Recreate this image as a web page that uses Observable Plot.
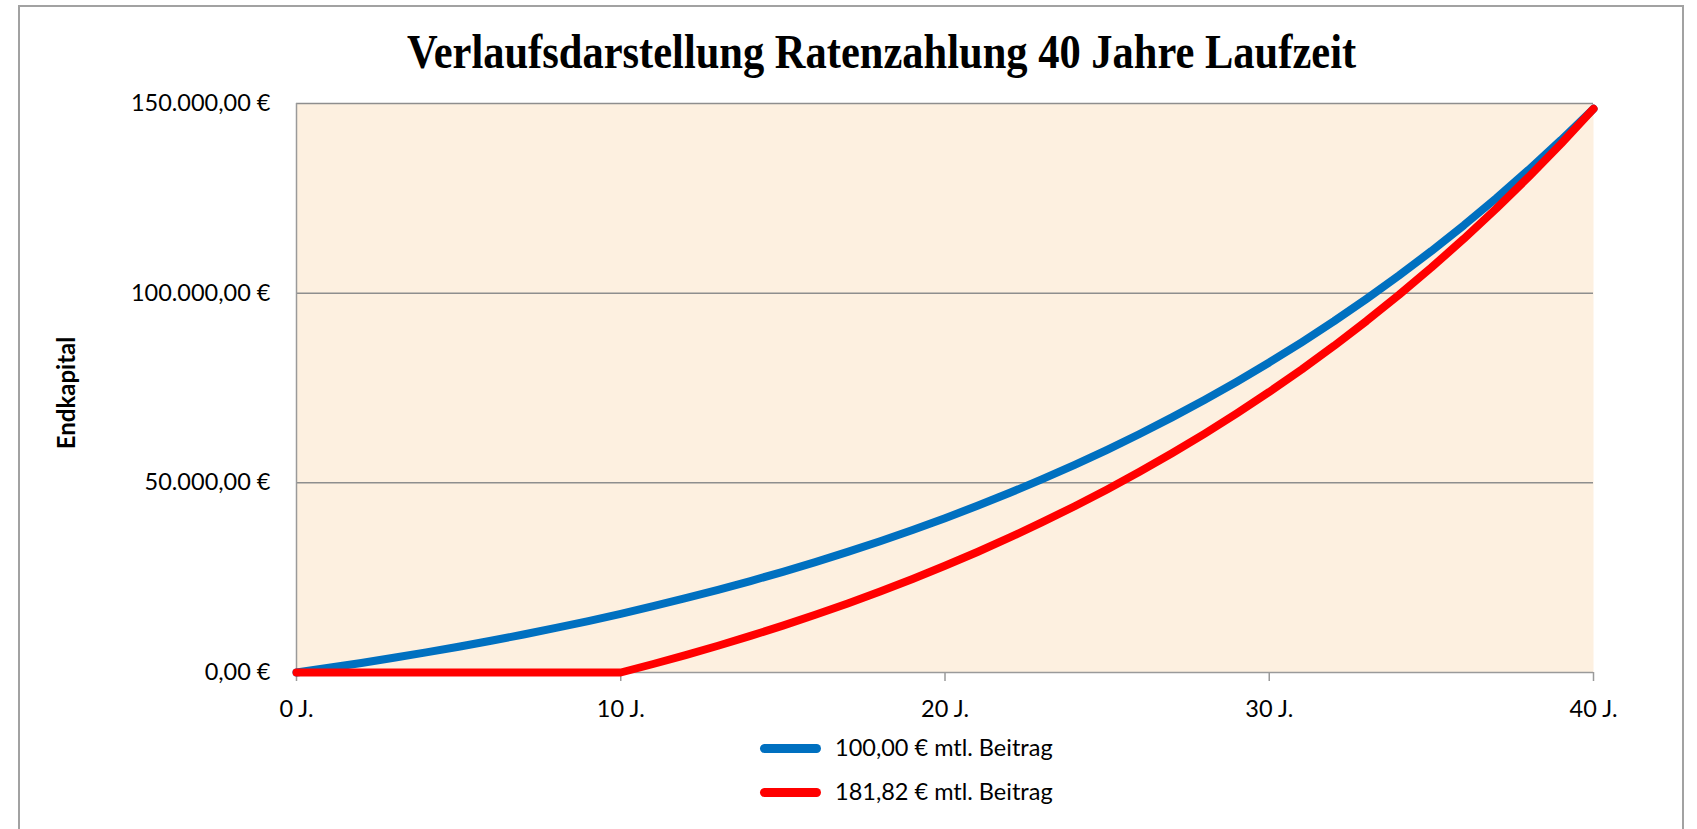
<!DOCTYPE html>
<html>
<head>
<meta charset="utf-8">
<script src="https://cdn.jsdelivr.net/npm/d3@7"></script>
<script src="https://cdn.jsdelivr.net/npm/@observablehq/plot@0.6"></script>
<style>
  html, body { margin: 0; padding: 0; overflow: hidden; background: #fff; }
  #wrap { position: relative; width: 1697px; height: 829px; overflow: hidden; }
  #chart { position: absolute; left: 0; top: 0; }
  #frame { position: absolute; left: 18px; top: 5px; width: 1666px; height: 900px;
           border: 2px solid #a2a2a2; box-sizing: border-box; pointer-events: none; }
  #title { position: absolute; left: 881.5px; top: 30.7px; white-space: nowrap;
           font-family: "Liberation Serif", "Times New Roman", serif; font-weight: bold;
           font-size: 42.5px; line-height: 1; color: #000;
           transform: translateX(-50%) scaleY(1.12); }
  .lg-swatch { position: absolute; left: 760px; width: 61px; height: 9px; border-radius: 4.5px; }
  .lg-text { position: absolute; left: 835px; font-family: Lato, sans-serif; font-size: 23.5px;
             line-height: 30px; color: #000; white-space: nowrap; }
</style>
</head>
<body>
<div id="wrap">
  <div id="chart"></div>
  <div id="frame"></div>
  <div id="title"></div>
  <div id="legend"></div>
</div>
<script>
// ---- data ----
const chartTitle = "Verlaufsdarstellung Ratenzahlung 40 Jahre Laufzeit";
const yAxisLabel = "Endkapital";
const years = [0,1,2,3,4,5,6,7,8,9,10,11,12,13,14,15,16,17,18,19,20,
               21,22,23,24,25,26,27,28,29,30,31,32,33,34,35,36,37,38,39,40];
const blueValues = [0,1230,2520,3880,5300,6800,8370,10020,11750,13560,15470,
                    17480,19580,21790,24110,26540,29100,31790,34610,37570,40680,
                    43940,47370,50970,54750,58710,62880,67250,71850,76670,81730,
                    87050,92630,98500,104650,111110,117900,125020,132510,140360,148610];
const redValues = [0,0,0,0,0,0,0,0,0,0,0,
                   2240,4590,7050,9640,12360,15210,18210,21360,24660,28130,
                   31770,35600,39610,43830,48260,52910,57790,62920,68310,73960,
                   79890,86120,92670,99540,106750,114330,122280,130630,139400,148610];
const seriesNames = ["100,00 € mtl. Beitrag", "181,82 € mtl. Beitrag"];
const seriesColors = ["#0070C0", "#FF0000"];
const xTicks = [0, 10, 20, 30, 40];
const yTicks = [0, 50000, 100000, 150000];

// ---- build table ----
const table = [
  ...years.map((yr, i) => ({year: yr, value: blueValues[i], series: seriesNames[0]})),
  ...years.map((yr, i) => ({year: yr, value: redValues[i], series: seriesNames[1]}))
];

const de = d3.formatLocale({decimal: ",", thousands: ".", grouping: [3], currency: ["", " €"]});
const fmtEuro = v => de.format(",.2f")(v) + " €";
const axisGray = "#9a9a9a";

const chart = Plot.plot({
  width: 1697,
  height: 829,
  marginLeft: 296,
  marginRight: 104,
  marginTop: 103,
  marginBottom: 157,
  style: {fontFamily: "Lato, sans-serif", fontSize: "23.5px", color: "#000", background: "transparent"},
  x: {domain: [0, 40]},
  y: {domain: [0, 150000]},
  color: {domain: seriesNames, range: seriesColors},
  marks: [
    Plot.frame({fill: "#FDF0E0", stroke: "none"}),
    Plot.gridY(yTicks.slice(1), {stroke: "#8e8e8e", strokeOpacity: 1, strokeWidth: 1.5}),
    Plot.ruleX([0], {stroke: axisGray, strokeWidth: 1.5}),
    Plot.ruleY([0], {stroke: axisGray, strokeWidth: 1.5}),
    Plot.axisX(xTicks, {tickFormat: d => d + " J.", tickSize: 9, tickPadding: 18.6,
                        stroke: axisGray, strokeWidth: 1.5, fill: "#000", label: null}),
    Plot.axisY(yTicks, {tickFormat: fmtEuro, tickSize: 0, tickPadding: 26, fill: "#000", label: null}),
    Plot.text([yAxisLabel], {frameAnchor: "left", textAnchor: "middle", dx: -229, dy: 5, rotate: -90,
                             fontWeight: "bold", fontSize: 24, fill: "#000"}),
    Plot.line(table, {x: "year", y: "value", stroke: "series", strokeWidth: 8,
                      strokeLinecap: "round", strokeLinejoin: "round"})
  ]
});
document.getElementById("chart").appendChild(chart);
document.getElementById("title").textContent = chartTitle;

// ---- legend ----
const legend = document.getElementById("legend");
const rowCenters = [748, 792];
seriesNames.forEach((name, i) => {
  const sw = document.createElement("div");
  sw.className = "lg-swatch";
  sw.style.background = seriesColors[i];
  sw.style.top = (rowCenters[i] - 4.5) + "px";
  legend.appendChild(sw);
  const tx = document.createElement("div");
  tx.className = "lg-text";
  tx.style.top = (rowCenters[i] - 15.7) + "px";
  tx.textContent = name;
  legend.appendChild(tx);
});
</script>
</body>
</html>
